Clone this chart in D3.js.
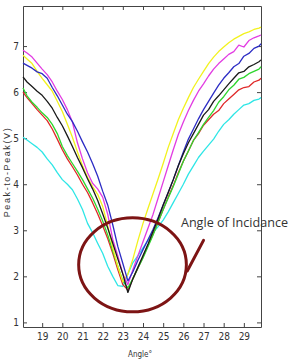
<!DOCTYPE html>
<html>
<head>
<meta charset="utf-8">
<script src="https://cdn.jsdelivr.net/npm/d3@7"></script>
<style>
  body { margin: 0; background: #fff; }
  .tick text { font-family: "Liberation Sans Narrow", "DejaVu Sans Condensed", "Liberation Sans", sans-serif; font-stretch: condensed; }
</style>
</head>
<body>
<div id="chart"></div>
<script>

// ==============================
// Chart data
// ==============================
var angles = [18.05, 18.25, 18.5, 18.75, 19, 19.25, 19.5, 19.75, 20, 20.25, 20.5, 20.75,
  21, 21.25, 21.5, 21.75, 22, 22.25, 22.5, 22.75, 23, 23.25, 23.5, 23.75,
  24, 24.25, 24.5, 24.75, 25, 25.25, 25.5, 25.75, 26, 26.25, 26.5, 26.75,
  27, 27.25, 27.5, 27.75, 28, 28.25, 28.5, 28.75, 29, 29.25, 29.5, 29.75, 29.85];

var cyanValues = [5.02, 4.96, 4.88, 4.80, 4.70, 4.55, 4.42, 4.25, 4.10, 4.00, 3.88, 3.68,
  3.45, 3.15, 2.95, 2.72, 2.50, 2.22, 2.00, 1.80, 1.78, 2.05, 2.30, 2.45,
  2.62, 2.78, 2.95, 3.08, 3.22, 3.40, 3.60, 3.80, 4.00, 4.22, 4.40, 4.58,
  4.72, 4.85, 4.98, 5.15, 5.30, 5.40, 5.52, 5.62, 5.72, 5.75, 5.82, 5.85, 5.88];

var redValues = [6.00, 5.88, 5.75, 5.62, 5.50, 5.38, 5.20, 4.98, 4.75, 4.55, 4.38, 4.20,
  4.00, 3.82, 3.60, 3.36, 3.10, 2.82, 2.50, 2.15, 1.82, 1.70, 1.95, 2.18,
  2.42, 2.68, 2.92, 3.18, 3.45, 3.72, 3.97, 4.25, 4.50, 4.72, 4.95, 5.10,
  5.28, 5.40, 5.52, 5.60, 5.75, 5.85, 5.95, 6.05, 6.10, 6.12, 6.22, 6.26, 6.30];

var greenValues = [6.09, 5.92, 5.78, 5.67, 5.55, 5.45, 5.30, 5.10, 4.82, 4.62, 4.45, 4.28,
  4.10, 3.90, 3.70, 3.46, 3.20, 2.90, 2.55, 2.22, 1.90, 1.75, 1.95, 2.18,
  2.40, 2.65, 2.90, 3.18, 3.45, 3.70, 3.95, 4.22, 4.50, 4.72, 4.95, 5.12,
  5.30, 5.45, 5.60, 5.78, 5.90, 6.05, 6.15, 6.28, 6.32, 6.40, 6.45, 6.50, 6.55];

var yellowValues = [6.80, 6.72, 6.62, 6.45, 6.30, 6.16, 6.02, 5.80, 5.58, 5.30, 5.02, 4.70,
  4.40, 4.15, 3.95, 3.78, 3.52, 3.10, 2.62, 2.22, 1.88, 2.05, 2.38, 2.78,
  3.15, 3.48, 3.80, 4.12, 4.45, 4.80, 5.10, 5.40, 5.65, 5.88, 6.10, 6.28,
  6.45, 6.62, 6.76, 6.88, 6.98, 7.07, 7.15, 7.21, 7.27, 7.31, 7.36, 7.39, 7.41];

var magentaValues = [6.91, 6.85, 6.76, 6.63, 6.50, 6.38, 6.22, 6.02, 5.84, 5.62, 5.35, 4.90,
  4.55, 4.25, 4.02, 3.90, 3.72, 3.35, 2.80, 2.45, 2.05, 1.82, 2.15, 2.45,
  2.75, 3.05, 3.35, 3.70, 4.05, 4.40, 4.75, 5.08, 5.35, 5.60, 5.82, 6.02,
  6.18, 6.35, 6.50, 6.62, 6.72, 6.82, 6.88, 7.02, 6.98, 7.12, 7.18, 7.22, 7.24];

var blueValues = [6.63, 6.58, 6.52, 6.44, 6.40, 6.30, 6.10, 5.92, 5.72, 5.52, 5.36, 5.15,
  4.92, 4.70, 4.45, 4.18, 3.85, 3.55, 3.12, 2.65, 2.28, 1.90, 2.10, 2.35,
  2.58, 2.80, 3.02, 3.28, 3.55, 3.82, 4.10, 4.40, 4.70, 4.98, 5.20, 5.42,
  5.62, 5.80, 5.98, 6.15, 6.30, 6.42, 6.55, 6.62, 6.78, 6.84, 6.95, 7.00, 7.05];

var blackValues = [6.33, 6.22, 6.12, 6.02, 5.93, 5.80, 5.65, 5.45, 5.27, 5.05, 4.82, 4.58,
  4.36, 4.12, 3.90, 3.65, 3.36, 3.05, 2.72, 2.38, 2.05, 1.65, 1.95, 2.20,
  2.45, 2.70, 2.98, 3.25, 3.55, 3.82, 4.10, 4.40, 4.66, 4.90, 5.10, 5.30,
  5.50, 5.62, 5.80, 5.92, 6.05, 6.18, 6.30, 6.42, 6.45, 6.55, 6.60, 6.66, 6.70];

var seriesNames = ["cyan", "red", "green", "yellow", "magenta", "blue", "black"];
var seriesColors = ["#2ee6e6", "#e02828", "#2ed62e", "#f2f21e", "#e23ce2", "#2c2cc4", "#1a1a1a"];
var seriesValues = [cyanValues, redValues, greenValues, yellowValues, magentaValues, blueValues, blackValues];

var xTicks = [19, 20, 21, 22, 23, 24, 25, 26, 27, 28, 29];
var yTicks = [1, 2, 3, 4, 5, 6, 7];

// annotation ring (angle / volts)
var ringCenter = [23.48, 2.25];
var ringRadius = [2.67, 1.02];
var ringTail = [[26.2, 2.12], [27.0, 2.78]];
var noteText = "Angle of Incidance";
var notePos = [25.88, 3.08];

// ==============================
// Setup SVG Area
// ==============================
var svgWidth = 293;
var svgHeight = 359;

var svg = d3.select("#chart")
  .append("svg")
  .attr("width", svgWidth)
  .attr("height", svgHeight);

var xScale = d3.scaleLinear()
  .domain([18.05, 29.85])
  .range([23, 261]);

var yScale = d3.scaleLinear()
  .domain([0.9, 7.87])
  .range([327, 6]);

var axisColor = "#444";
var tickFont = "10px";

// ==============================
// Axes (ticks point inward on all sides)
// ==============================
var bottomAxis = svg.append("g")
  .attr("transform", "translate(0,327)")
  .call(d3.axisBottom(xScale).tickValues(xTicks).tickSizeInner(-4).tickSizeOuter(0).tickPadding(6));

var topAxis = svg.append("g")
  .attr("transform", "translate(0,6)")
  .call(d3.axisTop(xScale).tickValues(xTicks).tickSizeInner(-4).tickSizeOuter(0).tickFormat(""));

var leftAxis = svg.append("g")
  .attr("transform", "translate(23,0)")
  .call(d3.axisLeft(yScale).tickValues(yTicks).tickSizeInner(-4).tickSizeOuter(0).tickPadding(4).tickFormat(d3.format("d")));

var rightAxis = svg.append("g")
  .attr("transform", "translate(261,0)")
  .call(d3.axisRight(yScale).tickValues(yTicks).tickSizeInner(-4).tickSizeOuter(0).tickFormat(""));

[bottomAxis, topAxis, leftAxis, rightAxis].forEach(function(g) {
  g.select(".domain").attr("stroke", axisColor);
  g.selectAll(".tick line").attr("stroke", axisColor);
  g.selectAll(".tick text").attr("fill", "#333").style("font-size", tickFont);
});

// ==============================
// Lines
// ==============================
var line = d3.line()
  .x(function(d) { return xScale(d[0]); })
  .y(function(d) { return yScale(d[1]); });

var lineData = seriesValues.map(function(vals, i) {
  return { name: seriesNames[i], color: seriesColors[i], points: angles.map(function(a, j) { return [a, vals[j]]; }) };
});

svg.append("g")
  .selectAll("path")
  .data(lineData)
  .enter()
  .append("path")
  .attr("fill", "none")
  .attr("stroke", function(d) { return d.color; })
  .attr("stroke-width", 1.3)
  .attr("stroke-linejoin", "round")
  .attr("d", function(d) { return line(d.points); });

// ==============================
// Axis labels
// ==============================
svg.append("text")
  .attr("transform", "translate(10,172) rotate(-90)")
  .attr("text-anchor", "middle")
  .style("font-family", "Liberation Sans, sans-serif")
  .style("font-size", "9px")
  .style("letter-spacing", "1.6px")
  .attr("fill", "#333")
  .text("Peak-to-Peak(V)");

svg.append("text")
  .attr("x", 140)
  .attr("y", 357)
  .attr("text-anchor", "middle")
  .style("font-family", "Liberation Sans Narrow, DejaVu Sans Condensed, Liberation Sans, sans-serif")
  .style("font-size", "8px")
  .attr("fill", "#333")
  .text("Angle°");

// ==============================
// Annotation
// ==============================
var ringColor = "#7d1414";

svg.append("ellipse")
  .attr("cx", xScale(ringCenter[0]))
  .attr("cy", yScale(ringCenter[1]))
  .attr("rx", xScale(ringCenter[0] + ringRadius[0]) - xScale(ringCenter[0]))
  .attr("ry", yScale(ringCenter[1] - ringRadius[1]) - yScale(ringCenter[1]))
  .attr("fill", "none")
  .attr("stroke", ringColor)
  .attr("stroke-width", 3);

svg.append("path")
  .attr("d", line(ringTail))
  .attr("fill", "none")
  .attr("stroke", ringColor)
  .attr("stroke-width", 3)
  .attr("stroke-linecap", "round");

svg.append("text")
  .attr("x", xScale(notePos[0]))
  .attr("y", yScale(notePos[1]))
  .style("font-family", "Open Sans, sans-serif")
  .style("font-size", "12.6px")
  .attr("fill", "#333")
  .text(noteText);

</script>
</body>
</html>
